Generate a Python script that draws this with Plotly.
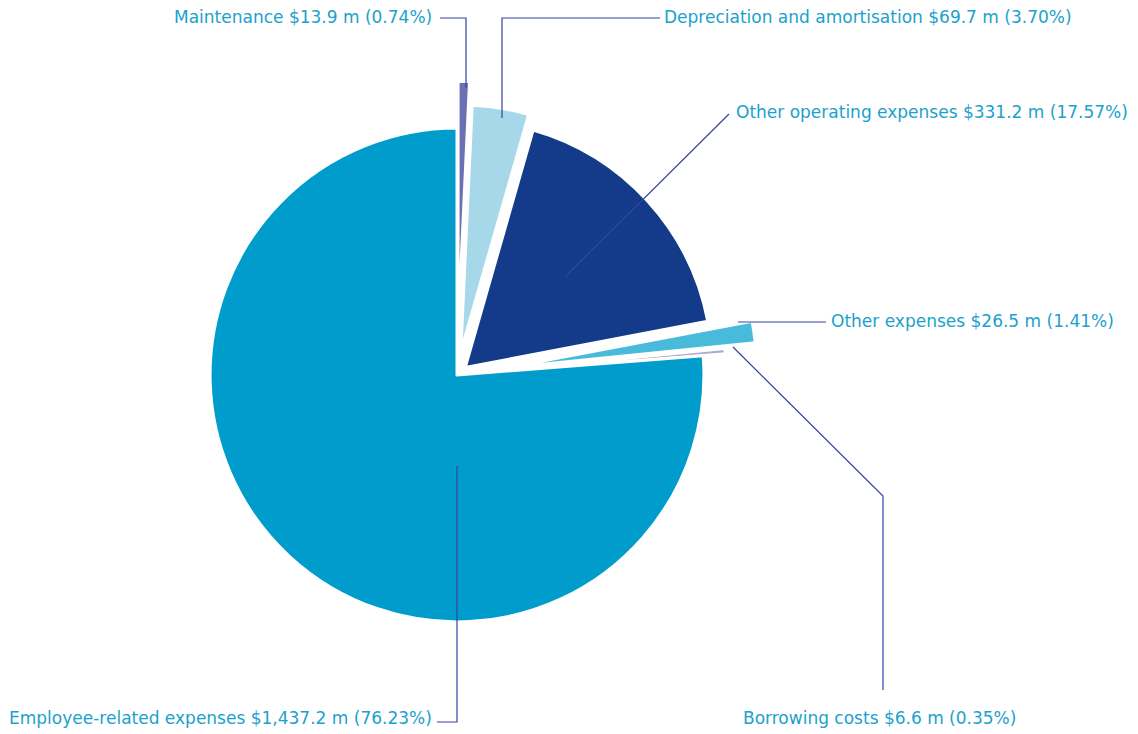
import plotly.graph_objects as go

W, H = 1138, 734

categories = ["Maintenance", "Depreciation and amortisation", "Other operating expenses",
              "Other expenses", "Borrowing costs", "Employee-related expenses"]
values = [13.9, 69.7, 331.2, 26.5, 6.6, 1437.2]
value_labels = ["$13.9 m", "$69.7 m", "$331.2 m", "$26.5 m", "$6.6 m", "$1,437.2 m"]
percent_labels = ["0.74%", "3.70%", "17.57%", "1.41%", "0.35%", "76.23%"]
colors = ["#6A70B2", "#A6D8EA", "#133B8A", "#48BBDB", "#A9ABD5", "#009DCC"]
pulls = [0.19, 0.095, 0.045, 0.215, 0.09, 0.0]

TEXT_COLOR = "#1BA1CC"
LINE_COLOR = "#3443A0"
FONT = "DejaVu Sans"
FS = 17


def px(x):
    return x / W


def py(y):
    return 1 - y / H


fig = go.Figure()
fig.add_trace(go.Pie(
    labels=categories, values=values, sort=False, direction="clockwise", rotation=0,
    marker=dict(colors=colors, line=dict(color="white", width=3)),
    pull=pulls, textinfo="none", hoverinfo="label+value+percent",
    domain=dict(x=[0, px(914)], y=[py(675), py(75)]), showlegend=False,
))

labels_text = [f"{c} {v} ({p})" for c, v, p in zip(categories, value_labels, percent_labels)]

# label placement (pixel positions of label anchor)
ann_pos = [
    (434, 17, "right"),
    (662, 17, "left"),
    (734, 112, "left"),
    (829, 321, "left"),
    (741, 718, "left"),
    (434, 718, "right"),
]
annotations = []
for t, (x, y, anc) in zip(labels_text, ann_pos):
    annotations.append(dict(
        text=t, x=px(x), y=py(y), xref="paper", yref="paper",
        xanchor=anc, yanchor="middle", showarrow=False,
        font=dict(family=FONT, size=FS, color=TEXT_COLOR),
    ))

# leader lines (pixel polylines)
leaders = [
    [(440, 18), (466, 18), (466, 88)],
    [(660, 18), (502, 18), (502, 118)],
    [(729, 114), (565, 277)],
    [(826, 322), (738, 322)],
    [(733, 347), (883, 496), (883, 690)],
    [(457, 466), (457, 722), (437, 722)],
]
shapes = []
for pts in leaders:
    path = "M " + " L ".join(f"{px(x)},{py(y)}" for x, y in pts)
    shapes.append(dict(type="path", path=path, xref="paper", yref="paper",
                       line=dict(color=LINE_COLOR, width=1.2)))

fig.update_layout(
    width=W, height=H, margin=dict(l=0, r=0, t=0, b=0),
    paper_bgcolor="white", plot_bgcolor="white",
    annotations=annotations, shapes=shapes,
)

fig.write_html("out.html", config={"displayModeBar": False},
               post_script="document.body.style.margin='0';")
